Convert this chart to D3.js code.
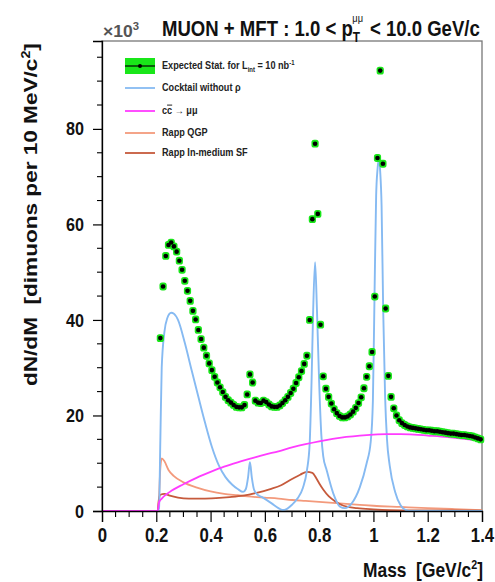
<!DOCTYPE html>
<html><head><meta charset="utf-8">
<script src="https://cdn.jsdelivr.net/npm/d3@7"></script>
<style>
html,body{margin:0;padding:0;background:#fff;}
svg{display:block;}
text{font-family:"Liberation Sans",Arial,sans-serif;font-weight:bold;}
</style></head>
<body>
<svg id="c" width="495" height="582"></svg>
<script>
// ---------- data ----------
const dataMass = [0.215,0.225,0.235,0.245,0.255,0.265,0.275,0.285,0.295,0.305,0.315,0.325,0.335,0.345,0.355,0.365,0.375,0.385,0.395,0.405,
0.415,0.425,0.435,0.445,0.455,0.465,0.475,0.485,0.495,0.505,0.515,0.525,0.535,0.545,0.555,0.565,0.575,0.585,0.595,0.605,
0.615,0.625,0.635,0.645,0.655,0.665,0.675,0.685,0.695,0.705,0.715,0.725,0.735,0.745,0.755,0.765,0.775,0.785,0.795,0.805,
0.815,0.825,0.835,0.845,0.855,0.865,0.875,0.885,0.895,0.905,0.915,0.925,0.935,0.945,0.955,0.965,0.975,0.985,0.995,1.005,
1.015,1.025,1.035,1.045,1.055,1.065,1.075,1.085,1.095,1.105,1.115,1.125,1.135,1.145,1.155,1.165,1.175,1.185,1.195,1.205,
1.215,1.225,1.235,1.245,1.255,1.265,1.275,1.285,1.295,1.305,1.315,1.325,1.335,1.345,1.355,1.365,1.375,1.385,1.395];
const dataCounts = [36.2,47.0,53.4,55.7,56.2,55.4,54.3,52.4,50.5,48.2,46.1,44.0,41.9,40.1,37.9,36.0,34.2,32.5,30.9,29.5,
28.1,26.9,25.9,24.9,23.9,23.2,22.7,22.2,21.8,21.7,21.7,22.2,24.4,28.6,26.9,23.1,22.7,22.6,23.1,22.8,
22.3,21.9,21.8,21.8,22.1,22.6,23.2,23.9,24.7,25.6,26.8,28.0,29.3,30.8,32.5,40.0,61.1,76.9,62.2,39.0,
28.2,25.6,23.9,22.5,21.3,20.5,19.9,19.6,19.6,19.8,20.2,20.8,21.6,22.6,23.8,25.7,28.1,30.3,33.3,44.9,
73.9,92.2,72.7,42.4,28.3,23.9,21.5,20.0,19.0,18.4,18.0,17.7,17.5,17.4,17.3,17.2,17.1,17.0,16.9,16.9,
16.8,16.7,16.7,16.6,16.5,16.4,16.3,16.2,16.2,16.1,16.0,15.9,15.9,15.8,15.7,15.6,15.4,15.2,15.0];

const cocktailMass = [0,0.205,0.21,0.215,0.22,0.23,0.24,0.255,0.265,0.28,0.305,0.33,0.355,0.38,0.405,0.43,0.455,0.48,0.50,0.52,0.53,0.538,0.545,0.552,0.56,0.57,0.59,0.625,0.65,0.665,0.68,0.70,0.72,0.74,0.755,0.765,0.772,0.778,0.785,0.792,0.80,0.808,0.815,0.828,0.852,0.877,0.895,0.92,0.95,0.975,0.99,0.998,1.004,1.01,1.015,1.02,1.025,1.03,1.036,1.043,1.05,1.06,1.08,1.10,1.12,1.14,1.4];
const cocktailVal  = [0,0,0.5,15,30,37.5,40.3,41.5,41.3,40.0,35.2,29.5,23.9,18.4,13.4,9.6,7.1,5.5,4.6,4.0,4.6,7.0,10.2,7.0,4.5,3.6,2.9,1.6,0.6,0.2,0.4,1.3,2.6,4.8,8.5,14,27,42,52.1,42,27,16,11.5,8.5,3.7,0.9,0.6,1.6,5.0,10.0,14.5,23,45,66,71.5,73.8,71,64,42,24,15,9.5,4.0,1.2,0.2,0,0];

const ccbarMass = [0,0.205,0.21,0.22,0.25,0.30,0.35,0.40,0.45,0.50,0.55,0.60,0.65,0.70,0.75,0.80,0.85,0.90,0.95,1.00,1.05,1.10,1.15,1.20,1.25,1.30,1.35,1.40];
const ccbarVal  = [0,0,1.8,2.6,4.0,5.6,7.0,8.2,9.3,10.2,11.0,11.8,12.5,13.3,14.0,14.6,15.1,15.5,15.8,16.0,16.1,16.1,16.0,15.8,15.6,15.3,15.0,14.7];

const qgpMass = [0,0.205,0.21,0.215,0.22,0.23,0.245,0.265,0.30,0.35,0.40,0.45,0.50,0.55,0.60,0.65,0.70,0.75,0.80,0.85,0.90,0.95,1.0,1.1,1.2,1.3,1.4];
const qgpVal  = [0,0,3,9,11.0,10.4,8.6,7.3,6.0,4.9,4.1,3.6,3.3,3.0,2.8,2.6,2.3,2.1,1.9,1.7,1.5,1.3,1.1,0.85,0.6,0.4,0.2];

const sfMass = [0,0.205,0.21,0.215,0.23,0.25,0.28,0.32,0.37,0.42,0.47,0.52,0.57,0.62,0.66,0.70,0.73,0.755,0.775,0.79,0.80,0.815,0.835,0.86,0.89,0.94,1.0,1.06,1.2,1.4];
const sfVal  = [0,0,2.5,3.4,3.6,3.2,2.8,2.6,2.6,2.7,2.9,3.2,3.8,4.6,5.4,6.7,7.6,8.2,8.0,6.8,5.8,4.5,3.1,2.0,1.1,0.6,0.35,0.2,0.1,0.05];

const xTicks = [0,0.2,0.4,0.6,0.8,1.0,1.2,1.4];
const xTickLabels = ["0","0.2","0.4","0.6","0.8","1","1.2","1.4"];
const yTicks = [0,20,40,60,80];
const legendLabels = ["Expected Stat. for L","Cocktail without ρ","c","c","→ μμ","Rapp QGP","Rapp In-medium SF"];

// ---------- drawing ----------
const svg = d3.select("#c");
const X0=102, X1=482, Y0=511, Y1=41;
const x = d3.scaleLinear().domain([0,1.4]).range([X0,X1]);
const y = d3.scaleLinear().domain([0,98.4]).range([Y0,Y1]);

const col = {cock:"#86baf2", cc:"#ff3cff", qgp:"#f39a7c", sf:"#c65a3c", green:"#19e619"};

function fitGroup(g, ax, ay, targetW){
  const w = g.node().getBBox().width;
  g.attr("transform",`translate(${ax},${ay}) scale(${targetW/w},1)`);
}

// frame
svg.append("rect").attr("x",X0).attr("y",Y1).attr("width",X1-X0).attr("height",Y0-Y1)
  .attr("fill","none").attr("stroke","#777").attr("stroke-width",1.3);

// curves
const line = d3.line().x(d=>x(d[0])).y(d=>y(d[1])).curve(d3.curveMonotoneX);
function curve(ms,vs,c,w){
  svg.append("path").datum(ms.map((m,i)=>[m,vs[i]])).attr("d",line)
    .attr("fill","none").attr("stroke",c).attr("stroke-width",w).attr("stroke-linejoin","round");
}
curve(qgpMass,qgpVal,col.qgp,1.8);
curve(sfMass,sfVal,col.sf,1.8);
curve(cocktailMass,cocktailVal,col.cock,1.9);
curve(ccbarMass,ccbarVal,col.cc,1.8);

// data points
const pts = svg.append("g");
dataMass.forEach((m,i)=>{
  pts.append("rect").attr("x",x(m)-3.6).attr("y",y(dataCounts[i])-3.9).attr("width",7.2).attr("height",7.8)
    .attr("rx",2.6).attr("fill",col.green);
});
dataMass.forEach((m,i)=>{
  pts.append("circle").attr("cx",x(m)).attr("cy",y(dataCounts[i])).attr("r",2.3).attr("fill","#000");
});

// axes
const xAxis = d3.axisBottom(x).tickValues(xTicks).tickFormat((d,i)=>xTickLabels[i]).tickSize(11).tickPadding(5);
const gx = svg.append("g").attr("transform",`translate(0,${Y0})`).call(xAxis);
gx.attr("font-family",null);
gx.select(".domain").attr("stroke","#000").attr("stroke-width",1.3);
gx.selectAll(".tick line").attr("stroke","#000").attr("stroke-width",1.2);
gx.selectAll(".tick text").attr("font-size",21).attr("fill","#111").attr("transform","scale(0.8,1)");
const xMinor = d3.range(0,29).map(i=>i*0.05).filter(v=>Math.abs(v/0.2-Math.round(v/0.2))>1e-6);
svg.append("g").selectAll("line").data(xMinor).join("line")
  .attr("x1",d=>x(d)).attr("x2",d=>x(d)).attr("y1",Y0).attr("y2",Y0+6).attr("stroke","#000").attr("stroke-width",1.1);

const yAxis = d3.axisLeft(y).tickValues(yTicks).tickSize(9).tickPadding(6);
const gy = svg.append("g").attr("transform",`translate(${X0},0)`).call(yAxis);
gy.attr("font-family",null);
gy.select(".domain").attr("stroke","#000").attr("stroke-width",1.3);
gy.selectAll(".tick line").attr("stroke","#000").attr("stroke-width",1.2);
gy.selectAll(".tick text").attr("font-size",19).attr("fill","#111")
  .attr("x",-18/0.85).attr("transform","scale(0.85,1)");
const yMinor = d3.range(1,20).map(i=>i*5).filter(v=>v%20!==0);
svg.append("g").selectAll("line").data(yMinor).join("line")
  .attr("x1",X0-5).attr("x2",X0).attr("y1",d=>y(d)).attr("y2",d=>y(d)).attr("stroke","#000").attr("stroke-width",1.1);

// axis titles
const gxt = svg.append("g");
gxt.append("text").attr("x",0).attr("y",0).attr("font-size",21).attr("fill","#111")
  .html('Mass\u00a0\u00a0[GeV/c<tspan dy="-8" font-size="13">2</tspan><tspan dy="8">]</tspan>');
fitGroup(gxt,363,577,120);

const gyt = svg.append("g");
gyt.append("text").attr("x",0).attr("y",0).attr("font-size",19).attr("fill","#111")
  .html('dN/dM\u00a0\u00a0[dimuons per 10 MeV/c<tspan dy="-7" font-size="12">2</tspan><tspan dy="7">]</tspan>');
{
  const w = gyt.node().getBBox().width;
  gyt.attr("transform",`translate(37,386) rotate(-90) scale(${343/w},1)`);
}

// title & exponent
const gexp = svg.append("g");
gexp.append("text").attr("x",0).attr("y",0).attr("font-size",17).attr("font-weight","normal").attr("fill","#555")
  .html('×10<tspan dy="-7" font-size="11" font-weight="bold">3</tspan>');
fitGroup(gexp,103,37,36);

const gt = svg.append("g");
const title = gt.append("text").attr("x",0).attr("y",0).attr("font-size",22).attr("fill","#111");
title.append("tspan").text("MUON + MFT : 1.0 < p");
title.append("tspan").attr("font-size",14).attr("dy",6).text("T");
title.append("tspan").attr("font-size",11).attr("font-weight","normal").attr("dx",-9).attr("dy",-20).text("μμ");
title.append("tspan").attr("dy",14).attr("dx",2).text(" < 10.0 GeV/c");
fitGroup(gt,162,36,318);

// legend
const lg = svg.append("g");
const ly = [66,88,111,133,153];
lg.append("rect").attr("x",125).attr("y",ly[0]-8).attr("width",30).attr("height",16).attr("fill",col.green);
lg.append("line").attr("x1",125).attr("x2",155).attr("y1",ly[0]).attr("y2",ly[0]).attr("stroke","#000").attr("stroke-width",1.2);
lg.append("circle").attr("cx",140).attr("cy",ly[0]).attr("r",2).attr("fill","#000");
[col.cock,col.cc,col.qgp,col.sf].forEach((c,i)=>{
  lg.append("line").attr("x1",125).attr("x2",155).attr("y1",ly[i+1]).attr("y2",ly[i+1]).attr("stroke",c).attr("stroke-width",1.8);
});
const lt = lg.append("g");
const t0 = lt.append("text").attr("x",0).attr("y",ly[0]+3).attr("font-size",10).attr("fill","#222");
t0.append("tspan").text(legendLabels[0]);
t0.append("tspan").attr("font-size",6.5).attr("dy",3).text("int");
t0.append("tspan").attr("dy",-3).text(" = 10 nb");
t0.append("tspan").attr("font-size",6.5).attr("dy",-4).text("-1");
lt.append("text").attr("x",0).attr("y",ly[1]+3).attr("font-size",10).attr("fill","#222").text(legendLabels[1]);
const t2 = lt.append("text").attr("x",0).attr("y",ly[2]+3).attr("font-size",10).attr("fill","#222");
t2.append("tspan").text(legendLabels[2]);
t2.append("tspan").style("text-decoration","overline").text(legendLabels[3]);
t2.append("tspan").text(" " + legendLabels[4]);
lt.append("text").attr("x",0).attr("y",ly[3]+3).attr("font-size",10).attr("fill","#222").text(legendLabels[5]);
lt.append("text").attr("x",0).attr("y",ly[4]+3).attr("font-size",10).attr("fill","#222").text(legendLabels[6]);
{
  const w = t0.node().getBBox().width;
  lt.attr("transform",`translate(162,0) scale(${133/w},1)`);
}
</script>
</body></html>
